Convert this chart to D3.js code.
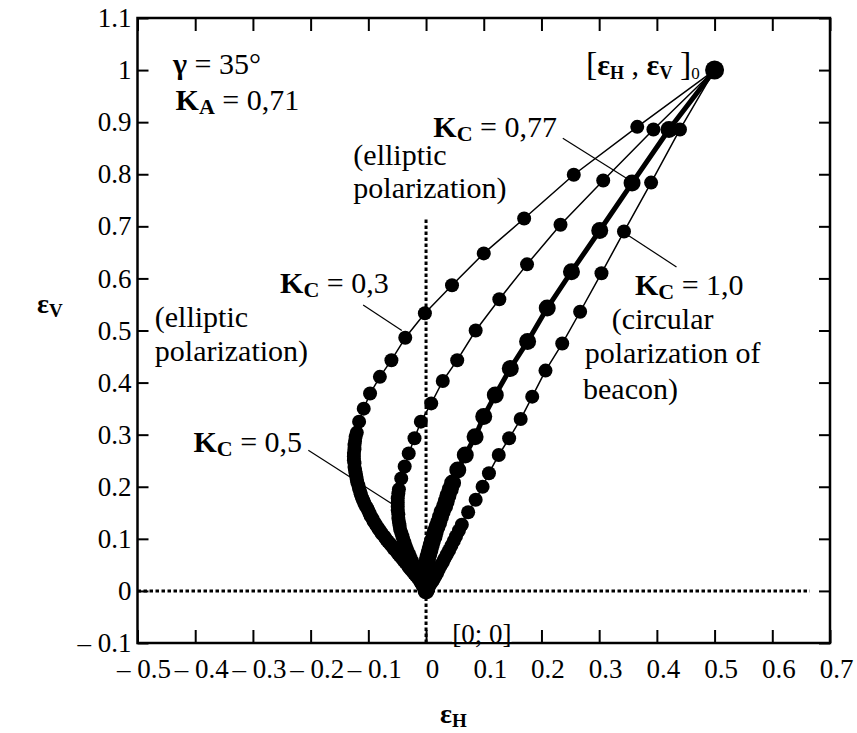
<!DOCTYPE html>
<html>
<head>
  <meta charset="utf-8">
  <title>εV vs εH</title>
  <style>
    body { margin: 0; background: #fff; }
    svg { display: block; font-family: "Liberation Serif", "Times New Roman", serif; }
    text { white-space: pre; }
  </style>
</head>
<body>
  <div id="chart"></div>

  <script src="https://d3js.org/d3.v7.min.js"></script>
  <script>
    // tick values and labels
    const xTicks = [-0.5, -0.4, -0.3, -0.2, -0.1, 0, 0.1, 0.2, 0.3, 0.4, 0.5, 0.6, 0.7];
    const xTickLabels = ["– 0.5", "– 0.4", "– 0.3", "– 0.2", "– 0.1", "0", "0.1", "0.2", "0.3", "0.4", "0.5", "0.6", "0.7"];
    const yTicks = [-0.1, 0, 0.1, 0.2, 0.3, 0.4, 0.5, 0.6, 0.7, 0.8, 0.9, 1, 1.1];
    const yTickLabels = ["– 0.1", "0", "0.1", "0.2", "0.3", "0.4", "0.5", "0.6", "0.7", "0.8", "0.9", "1", "1.1"];

    // starting point [εH, εV]0
    const startPoint = [0.5, 1.0];

    // Kc = 0,3
    const kc03 = [
      [0.5, 1.0], [0.366, 0.891], [0.256, 0.799], [0.170, 0.715], [0.100, 0.648],
      [0.045, 0.587], [-0.002, 0.533], [-0.036, 0.486], [-0.060, 0.443], [-0.080, 0.411],
      [-0.097, 0.379], [-0.108, 0.350], [-0.116, 0.325], [-0.120, 0.304], [-0.122, 0.296],
      [-0.123, 0.288], [-0.124, 0.280], [-0.124, 0.272], [-0.125, 0.265], [-0.125, 0.258],
      [-0.125, 0.251], [-0.124, 0.245], [-0.124, 0.238], [-0.123, 0.232], [-0.122, 0.226],
      [-0.121, 0.220], [-0.120, 0.214], [-0.119, 0.208], [-0.117, 0.202], [-0.116, 0.196],
      [-0.114, 0.190], [-0.113, 0.185], [-0.111, 0.179], [-0.109, 0.174], [-0.107, 0.169],
      [-0.105, 0.164], [-0.102, 0.159], [-0.100, 0.154], [-0.098, 0.149], [-0.096, 0.144],
      [-0.093, 0.139], [-0.091, 0.134], [-0.088, 0.129], [-0.085, 0.124], [-0.082, 0.119],
      [-0.079, 0.114], [-0.076, 0.109], [-0.072, 0.104], [-0.069, 0.099], [-0.066, 0.095],
      [-0.062, 0.090], [-0.059, 0.086], [-0.056, 0.081], [-0.052, 0.077], [-0.049, 0.072],
      [-0.046, 0.068], [-0.042, 0.063], [-0.039, 0.059], [-0.036, 0.055], [-0.033, 0.051],
      [-0.030, 0.046], [-0.027, 0.042], [-0.024, 0.038], [-0.021, 0.034], [-0.018, 0.030],
      [-0.015, 0.026], [-0.012, 0.022], [-0.010, 0.018], [-0.008, 0.014], [-0.006, 0.011],
      [-0.004, 0.008], [-0.003, 0.005], [-0.001, 0.002], [0, 0]
    ];

    // Kc = 0,5
    const kc05 = [
      [0.5, 1.0], [0.394, 0.886], [0.307, 0.788], [0.233, 0.703], [0.175, 0.627],
      [0.127, 0.560], [0.086, 0.500], [0.054, 0.443], [0.029, 0.403], [0.009, 0.360],
      [-0.009, 0.325], [-0.020, 0.293], [-0.030, 0.264], [-0.037, 0.239], [-0.043, 0.216],
      [-0.047, 0.195], [-0.048, 0.187], [-0.049, 0.178], [-0.049, 0.170], [-0.049, 0.162],
      [-0.049, 0.155], [-0.048, 0.147], [-0.048, 0.140], [-0.047, 0.133], [-0.046, 0.126],
      [-0.045, 0.119], [-0.043, 0.112], [-0.041, 0.105], [-0.039, 0.098], [-0.037, 0.092],
      [-0.035, 0.085], [-0.033, 0.079], [-0.030, 0.072], [-0.028, 0.066], [-0.025, 0.059],
      [-0.023, 0.053], [-0.020, 0.047], [-0.018, 0.041], [-0.015, 0.035], [-0.012, 0.029],
      [-0.010, 0.023], [-0.007, 0.018], [-0.005, 0.013], [-0.003, 0.008], [-0.001, 0.004],
      [0, 0]
    ];

    // Kc = 0,77
    const kc077 = [
      [0.5, 1.0], [0.421, 0.886], [0.357, 0.783], [0.301, 0.692], [0.252, 0.613],
      [0.210, 0.543], [0.176, 0.479], [0.146, 0.427], [0.120, 0.376], [0.100, 0.335],
      [0.085, 0.296], [0.068, 0.261], [0.055, 0.232], [0.046, 0.207], [0.042, 0.195],
      [0.038, 0.183], [0.035, 0.172], [0.032, 0.162], [0.028, 0.152], [0.025, 0.142],
      [0.022, 0.132], [0.019, 0.123], [0.016, 0.114], [0.014, 0.105], [0.011, 0.096],
      [0.009, 0.088], [0.007, 0.080], [0.005, 0.072], [0.003, 0.064], [0.002, 0.057],
      [0.001, 0.050], [0.000, 0.043], [-0.001, 0.036], [-0.001, 0.030], [-0.001, 0.024],
      [-0.001, 0.018], [0, 0.013], [0, 0.008], [0, 0.004], [0, 0]
    ];

    // Kc = 1,0
    const kc10 = [
      [0.5, 1.0], [0.440, 0.886], [0.390, 0.784], [0.343, 0.690], [0.304, 0.610],
      [0.267, 0.536], [0.236, 0.475], [0.207, 0.423], [0.184, 0.373], [0.164, 0.330],
      [0.144, 0.293], [0.126, 0.261], [0.109, 0.226], [0.098, 0.200], [0.086, 0.175],
      [0.073, 0.151], [0.062, 0.127], [0.057, 0.116], [0.052, 0.105], [0.048, 0.096],
      [0.044, 0.087], [0.040, 0.078], [0.036, 0.070], [0.032, 0.062], [0.029, 0.055],
      [0.025, 0.048], [0.022, 0.041], [0.019, 0.034], [0.016, 0.028], [0.013, 0.022],
      [0.010, 0.017], [0.007, 0.012], [0.005, 0.008], [0.002, 0.004], [0, 0]
    ];

    // dotted reference lines
    const refVertical = [[0, -0.1], [0, 0.713]];
    const refHorizontal = [[-0.5, 0], [0.665, 0]];

    const width = 857;
    const height = 733;
    const margin = { top: 18, right: 27, bottom: 90, left: 137.5 };
    const serif = '"Liberation Serif", "Times New Roman", serif';

    const svg = d3.select("#chart")
      .append("svg")
      .attr("width", width)
      .attr("height", height)
      .attr("font-family", serif);

    const x = d3.scaleLinear().domain([-0.5, 0.7]).range([margin.left, width - margin.right]);
    const y = d3.scaleLinear().domain([-0.1, 1.1]).range([height - margin.bottom, margin.top]);

    const plotLeft = x(-0.5), plotRight = x(0.7), plotTop = y(1.1), plotBottom = y(-0.1);

    const styleAxis = g => {
      g.attr("font-family", serif).attr("font-size", 27);
      g.select(".domain").remove();
      g.selectAll("line").attr("stroke", "#000").attr("stroke-width", 2);
      g.selectAll("text").attr("font-family", serif).attr("font-size", 27).attr("fill", "#000");
    };

    // axes with inward ticks
    svg.append("g")
      .attr("transform", `translate(0,${plotBottom})`)
      .call(d3.axisBottom(x).tickValues(xTicks).tickSize(-13).tickPadding(16)
        .tickFormat((d, i) => xTickLabels[i]))
      .call(styleAxis)
      .call(g => g.selectAll("text").attr("dx", 6));

    svg.append("g")
      .attr("transform", `translate(0,${plotTop})`)
      .call(d3.axisTop(x).tickValues(xTicks).tickSize(-13).tickFormat(""))
      .call(styleAxis);

    svg.append("g")
      .attr("transform", `translate(${plotLeft},0)`)
      .call(d3.axisLeft(y).tickValues(yTicks).tickSize(-11).tickPadding(6)
        .tickFormat((d, i) => yTickLabels[i]))
      .call(styleAxis);

    svg.append("g")
      .attr("transform", `translate(${plotRight},0)`)
      .call(d3.axisRight(y).tickValues(yTicks).tickSize(-11).tickFormat(""))
      .call(styleAxis);

    // frame
    svg.append("rect")
      .attr("x", plotLeft)
      .attr("y", plotTop)
      .attr("width", plotRight - plotLeft)
      .attr("height", plotBottom - plotTop)
      .attr("fill", "none")
      .attr("stroke", "#000")
      .attr("stroke-width", 2.5);

    const line = d3.line().x(d => x(d[0])).y(d => y(d[1]));

    // dotted lines through origin
    [refVertical, refHorizontal].forEach(r => {
      svg.append("path")
        .attr("d", line(r))
        .attr("fill", "none")
        .attr("stroke", "#000")
        .attr("stroke-width", 3)
        .attr("stroke-dasharray", "3.5,2.5");
    });

    // curves: thin lines, Kc = 0,77 thick
    const series = [
      { data: kc03, lw: 1.5, r: 7 },
      { data: kc05, lw: 1.5, r: 7 },
      { data: kc10, lw: 1.5, r: 7 },
      { data: kc077, lw: 5, r: 8.5 }
    ];

    series.forEach(s => {
      svg.append("path")
        .attr("d", line(s.data))
        .attr("fill", "none")
        .attr("stroke", "#000")
        .attr("stroke-width", s.lw)
        .attr("stroke-linejoin", "round");

      svg.append("g")
        .selectAll("circle")
        .data(s.data.slice(1))
        .join("circle")
        .attr("cx", d => x(d[0]))
        .attr("cy", d => y(d[1]))
        .attr("r", s.r)
        .attr("fill", "#000");
    });

    svg.append("circle")
      .attr("cx", x(startPoint[0]))
      .attr("cy", y(startPoint[1]))
      .attr("r", 9.5)
      .attr("fill", "#000");

    // rich text helper
    function rich(px, py, parts, size) {
      const t = svg.append("text")
        .attr("x", px)
        .attr("y", py)
        .attr("font-size", size || 30)
        .attr("fill", "#000");
      parts.forEach(p => {
        const s = t.append("tspan").text(p.t);
        if (p.b) s.attr("font-weight", "bold");
        if (p.s) s.attr("font-size", p.s);
        if (p.dy) s.attr("dy", p.dy);
      });
      return t;
    }

    const kc = v => [
      { t: "K", b: 1 },
      { t: "C", b: 1, s: 22, dy: 4 },
      { t: " = " + v, dy: -4 }
    ];

    // annotations
    rich(x(-0.4385), y(0.9925), [{ t: "γ", b: 1 }, { t: " = 35°" }]);
    rich(x(-0.434), y(0.923), [{ t: "K", b: 1 }, { t: "A", b: 1, s: 22, dy: 4 }, { t: " = 0,71", dy: -4 }]);

    rich(x(-0.126), y(0.817), [{ t: "(elliptic" }]);
    rich(x(-0.126), y(0.754), [{ t: "polarization)" }]);

    rich(x(-0.470), y(0.507), [{ t: "(elliptic" }]);
    rich(x(-0.470), y(0.441), [{ t: "polarization)" }]);

    rich(x(0.322), y(0.503), [{ t: "(circular" }]);
    rich(x(0.275), y(0.438), [{ t: "polarization of" }]);
    rich(x(0.272), y(0.368), [{ t: "beacon)" }]);

    rich(x(-0.253), y(0.572), kc("0,3"));
    rich(x(-0.403), y(0.267), kc("0,5"));
    rich(x(0.0126), y(0.872), kc("0,77"));
    rich(x(0.362), y(0.568), kc("1,0"));

    const leaders = [
      [[-0.109, 0.549], [-0.042, 0.500]],
      [[-0.204, 0.270], [-0.060, 0.168]],
      [[0.237, 0.869], [0.348, 0.792]],
      [[0.434, 0.622], [0.350, 0.683]]
    ];
    leaders.forEach(l => {
      svg.append("path")
        .attr("d", line(l))
        .attr("stroke", "#000")
        .attr("stroke-width", 1.2)
        .attr("fill", "none");
    });

    // [εH, εV]0
    rich(x(0.277), y(0.991), [
      { t: "[", s: 34 },
      { t: "ε", b: 1 },
      { t: "H", b: 1, s: 18, dy: 4 },
      { t: " , ", dy: -4 },
      { t: "ε", b: 1 },
      { t: "V", b: 1, s: 18, dy: 4 },
      { t: " ", dy: -4 },
      { t: "]", s: 34 },
      { t: "0", s: 17, dy: 4 }
    ]);

    // [0; 0] label with white backing
    const origin = rich(x(0.0454), y(-0.1), [{ t: "[0; 0]" }], 27);
    const bb = origin.node().getBBox();
    svg.insert("rect", () => origin.node())
      .attr("x", bb.x)
      .attr("y", bb.y + 4)
      .attr("width", bb.width)
      .attr("height", y(-0.1) - bb.y - 5)
      .attr("fill", "#fff");

    // axis titles
    rich(37, 313, [{ t: "ε", b: 1 }, { t: "V", b: 1, s: 19, dy: 4 }], 28);
    rich(440, 723, [{ t: "ε", b: 1 }, { t: "H", b: 1, s: 19, dy: 4 }], 28);
  </script>
</body>
</html>
